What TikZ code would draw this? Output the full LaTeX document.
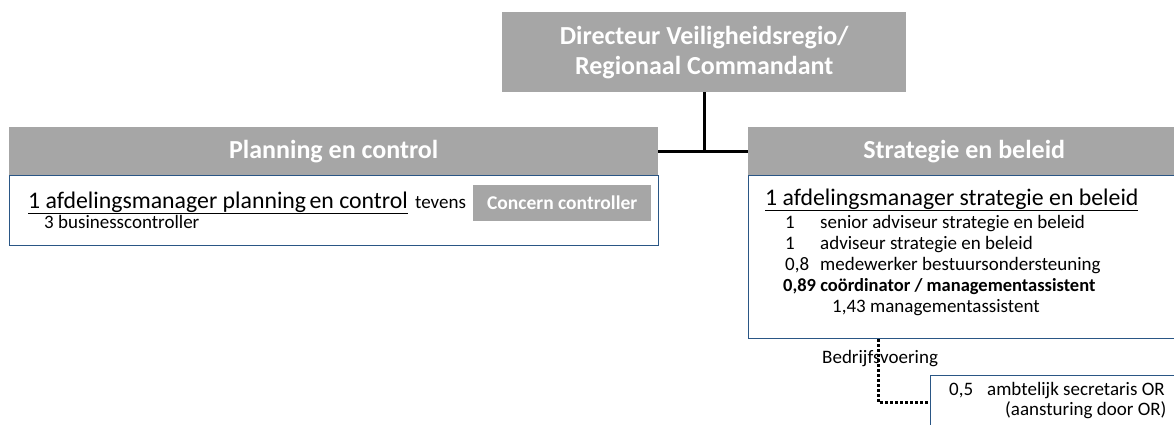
\documentclass[tikz,border=0pt]{standalone}
\usepackage{fontspec}
\setmainfont{Carlito}
\definecolor{hdr}{HTML}{A6A6A6}
\definecolor{bord}{HTML}{2A5685}
\tikzset{
  hdrbox/.style={fill=hdr, draw=none, text=white, font=\bfseries\fontsize{26}{30}\selectfont, inner sep=0pt, anchor=north west, align=center},
  bodybox/.style={draw=bord, line width=1.3pt, fill=white, inner sep=0pt, anchor=north west},
  big/.style={anchor=base west, inner sep=0pt, font=\fontsize{23.8}{26}\selectfont},
  small/.style={anchor=base west, inner sep=0pt, font=\fontsize{19}{22}\selectfont},
  conn/.style={line width=3pt, black},
  dotconn/.style={line width=3pt, black, dash pattern=on 2.6pt off 2.4pt}
}
\begin{document}
\begin{tikzpicture}[x=1pt,y=-1pt]
\useasboundingbox (0,0) rectangle (1174,425);
% boxes
\node[hdrbox, minimum width=404pt, minimum height=80pt] (top) at (502,12) {Directeur Veiligheidsregio/\\Regionaal Commandant};
\node[hdrbox, minimum width=649pt, minimum height=48pt] (lh) at (9,127) {Planning en control};
\node[bodybox, minimum width=649pt, minimum height=70pt] (lb) at (9,175) {};
\node[hdrbox, minimum width=432pt, minimum height=48pt] (rh) at (748,127) {Strategie en beleid};
\node[bodybox, minimum width=440pt, minimum height=163pt] (rb) at (748,175) {};
\node[bodybox, minimum width=260pt, minimum height=60pt] (bot) at (930,375) {};
\node[hdrbox, font=\bfseries\fontsize{19.5}{22}\selectfont, minimum width=178pt, minimum height=36pt] (cc) at (473,185) {Concern controller};
% connectors
\draw[conn] (top.south) -- (top.south |- lh.east);
\draw[conn] (lh.east) -- (rh.west);
\coordinate (dx) at (878,0);
\coordinate (bw) at (930,402);
\draw[dotconn] (rb.south west -| dx) |- (bw);
% left texts
\node[big] (l1) at (28,208) {\underline{1 afdelingsmanager planning\hspace{-2pt} en control}};
\node[small] (tev) at (415,208) {tevens};
\node[small] (l2) at (44,228) {3 businesscontroller};
% right texts
\node[big] (r1) at (765,205) {\underline{1 afdelingsmanager strategie en beleid}};
\node[small] (r2a) at (785,228) {1};
\node[small] (r2b) at (820,228) {senior adviseur strategie en beleid};
\node[small] (r3a) at (785,249) {1};
\node[small] (r3b) at (820,249) {adviseur strategie en beleid};
\node[small] (r4a) at (785,270) {0,8};
\node[small] (r4b) at (820,270) {medewerker bestuursondersteuning};
\node[small, font=\bfseries\fontsize{18.5}{22}\selectfont] (r5) at (783,291) {0,89 coördinator / managementassistent};
\node[small] (r6a) at (832,312) {1,43};
\node[small] (r6b) at (870,312) {managementassistent};
\node[small] (bv) at (822,363) {Bedrijfsvoering};
\node[small] (b1a) at (949,395) {0,5};
\node[small] (b1b) at (987,395) {ambtelijk secretaris OR};
\node[small] (b2) at (1005,415) {(aansturing door OR)};
\end{tikzpicture}
\end{document}
